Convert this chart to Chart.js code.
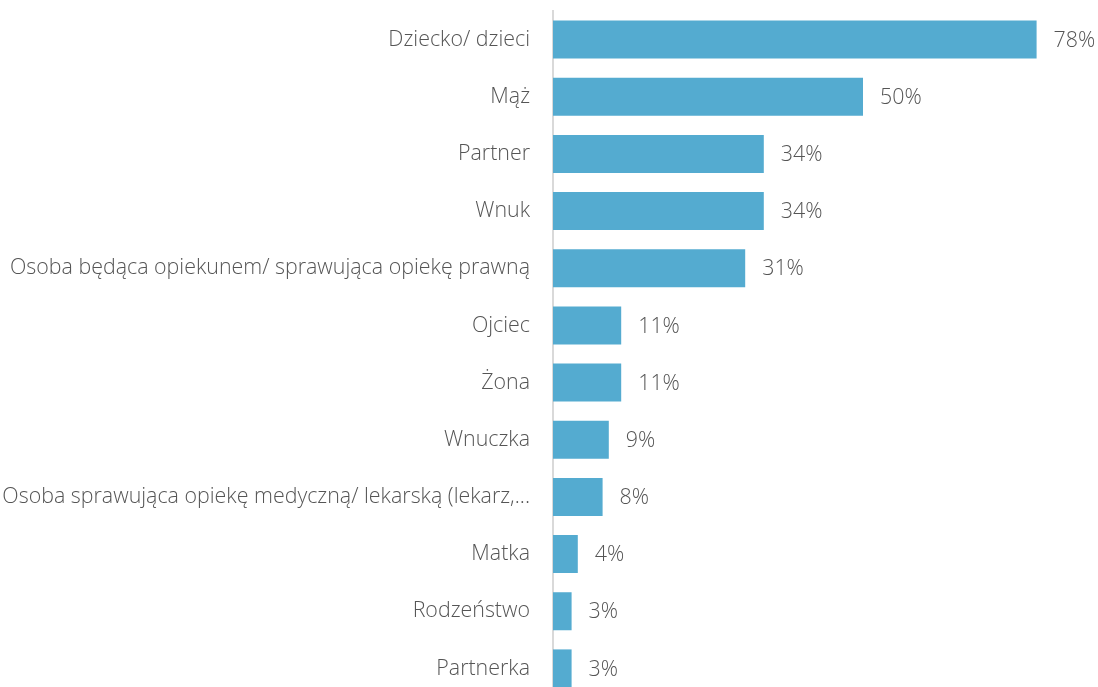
<!DOCTYPE html>
<html>
<head>
<meta charset="utf-8">
<script src="https://cdn.jsdelivr.net/npm/chart.js@4/dist/chart.umd.min.js"></script>
<style>
  html, body { margin: 0; padding: 0; background: #fff; overflow: hidden; }
  #wrap { width: 1098px; height: 697px; }
</style>
</head>
<body>
<div id="wrap"><canvas id="c" width="1098" height="697"></canvas></div>
<script>
// Who is the respondent's caregiver (share of answers, %)
const categories = [
  'Dziecko/ dzieci',
  'Mąż',
  'Partner',
  'Wnuk',
  'Osoba będąca opiekunem/ sprawująca opiekę prawną',
  'Ojciec',
  'Żona',
  'Wnuczka',
  'Osoba sprawująca opiekę medyczną/ lekarską (lekarz,...',
  'Matka',
  'Rodzeństwo',
  'Partnerka'
];
const values = [78, 50, 34, 34, 31, 11, 11, 9, 8, 4, 3, 3];

const TEXT = '#555555';
const FONT = "'Open Sans', 'Noto Sans', sans-serif";
const FONT_SIZE = 21.4;

// Draws "NN%" to the right of each bar
const valueLabels = {
  id: 'valueLabels',
  afterDatasetsDraw(chart) {
    const ctx = chart.ctx;
    const meta = chart.getDatasetMeta(0);
    ctx.save();
    ctx.font = '300 ' + FONT_SIZE + 'px ' + FONT;
    ctx.fillStyle = TEXT;
    ctx.textAlign = 'left';
    ctx.textBaseline = 'middle';
    meta.data.forEach((bar, i) => {
      ctx.fillText(values[i] + '%', bar.x + 17, bar.y + 1);
    });
    ctx.restore();
  }
};

new Chart(document.getElementById('c'), {
  type: 'bar',
  data: {
    labels: categories,
    datasets: [{
      data: values,
      backgroundColor: '#54abd0',
      borderWidth: 0,
      categoryPercentage: 1,
      barPercentage: 0.665
    }]
  },
  options: {
    indexAxis: 'y',
    responsive: false,
    animation: false,
    layout: { padding: { top: 11, right: 49, bottom: 0, left: 0 } },
    plugins: { legend: { display: false }, tooltip: { enabled: false } },
    scales: {
      x: { display: false, min: 0, max: 80 },
      y: {
        grid: { display: false, drawTicks: false },
        border: { display: true, color: '#d9d9d9', width: 2 },
        ticks: {
          color: TEXT,
          padding: 23,
          font: { family: FONT, size: FONT_SIZE, weight: '300' }
        },
        afterFit(scale) {
          scale.width = 553;
          scale.paddingTop = 0;
          scale.paddingBottom = 0;
        }
      }
    }
  },
  plugins: [valueLabels]
});
</script>
</body>
</html>
